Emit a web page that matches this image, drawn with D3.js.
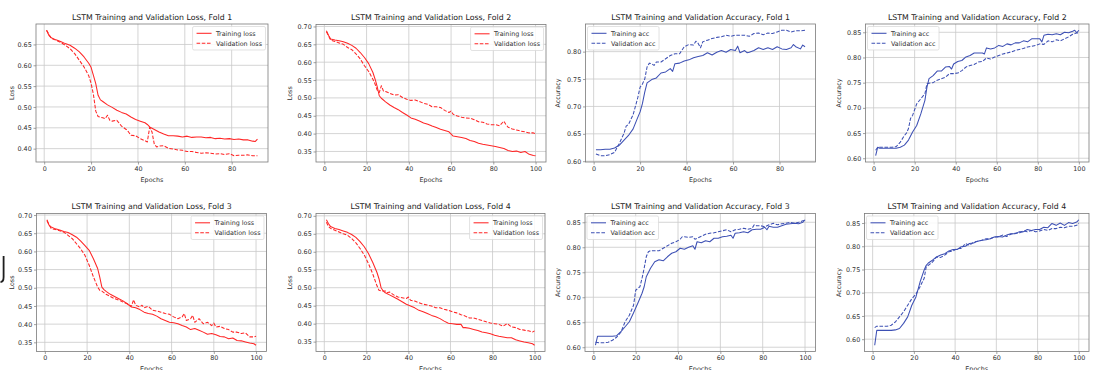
<!DOCTYPE html>
<html><head><meta charset="utf-8">
<script src="https://cdn.jsdelivr.net/npm/d3@7"></script>
<style>body{margin:0;background:#fff}svg{display:block;font-family:"DejaVu Sans",sans-serif}</style>
</head><body><svg id="chart" width="1099" height="370"></svg>
<script>
// ---------------- data: [epoch, value] ----------------
const lossF1Train = [[1,0.684],[2,0.672],[3,0.666],[5,0.661],[7,0.657],[9,0.652],[11,0.648],[13,0.641],[15,0.632],[17,0.620],[19,0.605],[20,0.595],[21,0.576],[22,0.556],[23,0.528],[24,0.517],[25,0.513],[27,0.505],[29,0.499],[31,0.492],[33,0.487],[35,0.483],[37,0.476],[39,0.470],[41,0.466],[43,0.462],[44,0.458],[45,0.452],[47,0.446],[49,0.440],[51,0.435],[53,0.431],[55,0.431],[57,0.430],[59,0.428],[61,0.430],[63,0.427],[65,0.428],[67,0.428],[69,0.426],[71,0.427],[73,0.424],[75,0.425],[77,0.423],[79,0.424],[81,0.422],[83,0.423],[85,0.421],[87,0.421],[89,0.418],[90,0.417],[91,0.423]];
const lossF1Val = [[1,0.684],[3,0.665],[5,0.660],[7,0.655],[9,0.648],[11,0.640],[13,0.628],[15,0.612],[17,0.596],[19,0.575],[20,0.557],[21,0.530],[22,0.490],[23,0.477],[25,0.474],[26,0.472],[27,0.480],[28,0.468],[29,0.466],[31,0.468],[33,0.454],[35,0.446],[36,0.440],[37,0.432],[39,0.431],[41,0.424],[43,0.419],[44,0.416],[45,0.451],[46,0.440],[47,0.410],[48,0.404],[49,0.406],[51,0.407],[53,0.401],[55,0.399],[57,0.397],[59,0.396],[61,0.393],[63,0.393],[65,0.391],[67,0.389],[69,0.390],[71,0.389],[73,0.387],[75,0.388],[77,0.386],[79,0.388],[81,0.383],[83,0.384],[85,0.384],[87,0.385],[89,0.383],[91,0.383]];
const lossF2Train = [[1,0.688],[2,0.675],[3,0.665],[5,0.662],[7,0.660],[9,0.657],[11,0.653],[13,0.647],[15,0.639],[17,0.627],[19,0.613],[21,0.596],[23,0.571],[24,0.553],[25,0.532],[26,0.506],[27,0.499],[29,0.489],[31,0.480],[33,0.473],[35,0.467],[37,0.459],[39,0.452],[41,0.444],[43,0.440],[45,0.435],[47,0.430],[49,0.426],[51,0.421],[53,0.417],[55,0.412],[57,0.409],[59,0.405],[61,0.393],[63,0.391],[65,0.389],[67,0.386],[69,0.381],[71,0.378],[73,0.373],[75,0.370],[77,0.368],[79,0.366],[81,0.364],[83,0.361],[85,0.358],[87,0.353],[89,0.350],[91,0.351],[93,0.347],[95,0.350],[97,0.342],[99,0.339],[100,0.338]];
const lossF2Val = [[1,0.685],[3,0.662],[5,0.658],[7,0.654],[9,0.650],[11,0.641],[13,0.635],[15,0.623],[17,0.609],[19,0.590],[21,0.574],[23,0.552],[24,0.539],[25,0.522],[26,0.515],[27,0.534],[28,0.519],[29,0.518],[31,0.513],[33,0.508],[35,0.509],[37,0.501],[39,0.496],[41,0.493],[43,0.494],[45,0.490],[47,0.485],[49,0.482],[51,0.475],[53,0.475],[55,0.473],[57,0.465],[59,0.459],[60,0.463],[61,0.454],[63,0.449],[65,0.446],[67,0.444],[69,0.443],[71,0.439],[73,0.433],[75,0.432],[77,0.427],[79,0.425],[81,0.425],[83,0.422],[85,0.435],[86,0.425],[87,0.418],[89,0.413],[91,0.410],[93,0.407],[95,0.405],[97,0.402],[99,0.402],[100,0.400]];
const lossF3Train = [[1,0.687],[2,0.672],[3,0.667],[5,0.662],[7,0.659],[9,0.655],[11,0.652],[13,0.646],[15,0.639],[17,0.628],[19,0.616],[21,0.603],[23,0.580],[25,0.553],[26,0.529],[27,0.502],[28,0.495],[29,0.490],[31,0.482],[33,0.476],[35,0.470],[37,0.464],[39,0.456],[41,0.447],[43,0.445],[45,0.440],[47,0.433],[49,0.429],[51,0.427],[53,0.422],[55,0.415],[57,0.410],[59,0.405],[61,0.404],[63,0.401],[65,0.396],[67,0.392],[69,0.385],[71,0.388],[73,0.383],[75,0.378],[77,0.372],[79,0.374],[81,0.371],[83,0.366],[85,0.365],[87,0.360],[89,0.362],[91,0.355],[93,0.354],[95,0.351],[97,0.348],[99,0.346],[100,0.342]];
const lossF3Val = [[1,0.684],[3,0.663],[5,0.660],[7,0.657],[9,0.653],[11,0.644],[13,0.635],[15,0.621],[17,0.607],[19,0.589],[21,0.562],[23,0.530],[25,0.502],[26,0.493],[27,0.491],[29,0.482],[31,0.476],[33,0.470],[35,0.466],[37,0.461],[39,0.456],[41,0.449],[42,0.467],[43,0.452],[45,0.447],[46,0.452],[47,0.445],[49,0.449],[51,0.438],[53,0.436],[55,0.433],[57,0.429],[59,0.427],[61,0.420],[63,0.415],[65,0.420],[66,0.429],[67,0.410],[69,0.415],[70,0.424],[71,0.405],[73,0.415],[75,0.401],[77,0.405],[79,0.396],[80,0.403],[81,0.392],[83,0.394],[85,0.388],[87,0.385],[89,0.378],[91,0.378],[93,0.374],[95,0.376],[97,0.365],[99,0.365],[100,0.367]];
const lossF4Train = [[1,0.689],[2,0.678],[3,0.670],[5,0.665],[7,0.662],[9,0.658],[11,0.654],[13,0.648],[15,0.640],[17,0.628],[19,0.614],[21,0.595],[23,0.571],[25,0.543],[26,0.525],[27,0.500],[28,0.491],[29,0.486],[31,0.480],[33,0.474],[35,0.468],[37,0.461],[39,0.454],[41,0.449],[43,0.444],[45,0.437],[47,0.433],[49,0.428],[51,0.423],[53,0.419],[55,0.414],[57,0.407],[59,0.401],[61,0.400],[63,0.398],[65,0.398],[66,0.389],[67,0.389],[69,0.387],[71,0.384],[73,0.381],[75,0.377],[77,0.375],[79,0.372],[81,0.368],[83,0.365],[85,0.363],[87,0.361],[89,0.361],[91,0.355],[93,0.352],[95,0.349],[97,0.347],[99,0.344],[100,0.340]];
const lossF4Val = [[1,0.682],[2,0.670],[3,0.665],[5,0.660],[7,0.655],[9,0.650],[11,0.646],[13,0.637],[15,0.625],[17,0.609],[19,0.591],[21,0.567],[23,0.539],[25,0.506],[26,0.493],[27,0.491],[29,0.491],[30,0.486],[31,0.488],[33,0.480],[35,0.474],[37,0.472],[39,0.470],[40,0.474],[41,0.465],[43,0.463],[45,0.458],[47,0.454],[49,0.452],[51,0.449],[53,0.444],[55,0.444],[57,0.440],[59,0.437],[61,0.433],[63,0.430],[65,0.425],[67,0.421],[69,0.416],[71,0.416],[73,0.412],[75,0.409],[77,0.405],[79,0.402],[81,0.400],[83,0.398],[85,0.393],[87,0.400],[89,0.391],[91,0.389],[93,0.384],[95,0.382],[97,0.380],[99,0.377],[100,0.380]];
const accF1Train = [[1,0.621],[3,0.621],[5,0.622],[7,0.622],[9,0.624],[11,0.629],[13,0.638],[15,0.647],[17,0.659],[19,0.680],[20,0.690],[21,0.705],[22,0.726],[23,0.743],[25,0.749],[27,0.752],[29,0.761],[31,0.763],[33,0.769],[34,0.764],[35,0.778],[37,0.779],[39,0.783],[41,0.785],[43,0.789],[45,0.791],[47,0.793],[49,0.798],[51,0.794],[53,0.799],[55,0.802],[57,0.799],[59,0.804],[61,0.802],[62,0.810],[63,0.798],[65,0.802],[66,0.798],[67,0.799],[69,0.802],[71,0.807],[73,0.804],[75,0.807],[77,0.804],[79,0.809],[81,0.805],[83,0.804],[85,0.807],[86,0.813],[87,0.809],[89,0.805],[90,0.812],[91,0.809]];
const accF1Val = [[1,0.613],[3,0.610],[5,0.610],[7,0.612],[9,0.616],[11,0.632],[13,0.650],[14,0.664],[15,0.667],[17,0.685],[19,0.716],[20,0.735],[21,0.741],[22,0.750],[23,0.772],[24,0.779],[25,0.778],[26,0.775],[27,0.781],[29,0.781],[31,0.787],[33,0.793],[35,0.796],[37,0.796],[39,0.809],[41,0.813],[43,0.812],[44,0.819],[45,0.815],[46,0.807],[47,0.818],[49,0.821],[51,0.824],[53,0.826],[55,0.827],[57,0.830],[59,0.828],[61,0.830],[63,0.830],[65,0.830],[67,0.828],[69,0.833],[71,0.834],[73,0.831],[75,0.834],[77,0.833],[79,0.836],[81,0.839],[83,0.839],[85,0.836],[87,0.838],[89,0.838],[91,0.839]];
const accF2Train = [[1,0.605],[2,0.622],[3,0.620],[5,0.620],[7,0.620],[9,0.620],[11,0.620],[13,0.622],[15,0.626],[17,0.636],[19,0.652],[21,0.665],[23,0.688],[25,0.715],[26,0.741],[27,0.758],[29,0.764],[31,0.773],[33,0.773],[35,0.781],[37,0.782],[38,0.777],[39,0.787],[41,0.792],[43,0.794],[45,0.801],[47,0.804],[49,0.809],[51,0.809],[53,0.809],[54,0.807],[55,0.819],[57,0.817],[59,0.819],[61,0.824],[63,0.822],[65,0.827],[67,0.825],[69,0.829],[71,0.829],[73,0.833],[75,0.831],[77,0.837],[79,0.837],[81,0.837],[82,0.831],[83,0.844],[85,0.846],[87,0.845],[89,0.847],[91,0.845],[93,0.850],[95,0.849],[97,0.852],[98,0.854],[99,0.849],[100,0.854]];
const accF2Val = [[1,0.616],[2,0.622],[3,0.622],[5,0.622],[7,0.622],[9,0.622],[11,0.623],[13,0.632],[15,0.645],[16,0.650],[17,0.659],[18,0.679],[19,0.685],[21,0.708],[23,0.718],[25,0.728],[26,0.748],[27,0.749],[29,0.750],[31,0.755],[33,0.758],[35,0.761],[37,0.768],[39,0.768],[41,0.769],[43,0.774],[45,0.781],[47,0.784],[49,0.786],[51,0.791],[53,0.792],[55,0.799],[57,0.797],[59,0.801],[61,0.804],[63,0.807],[65,0.809],[67,0.811],[69,0.814],[71,0.816],[73,0.818],[75,0.821],[77,0.822],[79,0.824],[81,0.827],[83,0.826],[85,0.833],[87,0.831],[89,0.835],[91,0.833],[93,0.837],[95,0.841],[97,0.846],[99,0.849],[100,0.847]];
const accF3Train = [[1,0.604],[2,0.622],[3,0.622],[5,0.622],[7,0.622],[9,0.622],[11,0.623],[13,0.631],[15,0.641],[17,0.651],[19,0.669],[21,0.688],[23,0.708],[24,0.721],[25,0.741],[27,0.758],[29,0.771],[31,0.775],[33,0.773],[35,0.781],[37,0.788],[39,0.791],[41,0.798],[43,0.796],[45,0.800],[47,0.803],[48,0.796],[49,0.811],[51,0.809],[53,0.813],[55,0.811],[57,0.818],[59,0.818],[61,0.821],[63,0.822],[65,0.824],[66,0.818],[67,0.828],[69,0.829],[71,0.831],[73,0.829],[75,0.835],[77,0.836],[79,0.836],[81,0.840],[82,0.835],[83,0.842],[85,0.840],[87,0.840],[89,0.843],[91,0.846],[93,0.847],[95,0.848],[97,0.847],[99,0.850],[100,0.855]];
const accF3Val = [[1,0.610],[3,0.609],[5,0.609],[7,0.610],[9,0.614],[11,0.620],[13,0.630],[15,0.651],[17,0.664],[19,0.684],[20,0.714],[21,0.718],[22,0.721],[23,0.738],[24,0.758],[25,0.781],[26,0.791],[27,0.793],[29,0.793],[31,0.793],[33,0.798],[35,0.803],[37,0.808],[39,0.811],[41,0.816],[42,0.821],[43,0.821],[45,0.820],[47,0.821],[48,0.816],[49,0.818],[51,0.822],[53,0.826],[55,0.828],[57,0.829],[59,0.831],[61,0.833],[63,0.835],[65,0.831],[67,0.835],[69,0.836],[71,0.838],[73,0.836],[75,0.838],[76,0.845],[77,0.843],[79,0.843],[81,0.841],[83,0.845],[85,0.848],[87,0.845],[89,0.847],[91,0.848],[93,0.850],[95,0.848],[97,0.850],[99,0.853],[100,0.854]];
const accF4Train = [[1,0.587],[2,0.619],[3,0.619],[5,0.619],[7,0.619],[9,0.619],[11,0.620],[13,0.623],[15,0.634],[17,0.648],[19,0.673],[21,0.691],[23,0.723],[25,0.749],[26,0.759],[27,0.764],[29,0.770],[31,0.777],[33,0.781],[35,0.784],[37,0.790],[39,0.793],[41,0.793],[43,0.799],[45,0.800],[47,0.806],[49,0.807],[51,0.811],[53,0.813],[55,0.814],[57,0.816],[59,0.820],[61,0.821],[63,0.820],[65,0.824],[67,0.827],[69,0.827],[71,0.831],[73,0.831],[75,0.836],[77,0.834],[79,0.836],[81,0.836],[83,0.841],[85,0.840],[87,0.849],[89,0.845],[91,0.850],[93,0.845],[95,0.851],[97,0.849],[99,0.852],[100,0.857]];
const accF4Val = [[1,0.625],[2,0.628],[3,0.628],[5,0.628],[7,0.628],[9,0.630],[11,0.637],[13,0.648],[15,0.659],[17,0.673],[19,0.687],[21,0.697],[23,0.713],[25,0.731],[26,0.756],[27,0.759],[29,0.766],[31,0.777],[33,0.776],[35,0.781],[37,0.788],[39,0.790],[41,0.795],[43,0.795],[45,0.806],[47,0.802],[49,0.809],[51,0.811],[53,0.813],[55,0.816],[57,0.816],[59,0.820],[61,0.820],[63,0.824],[65,0.821],[67,0.826],[69,0.828],[71,0.828],[73,0.833],[75,0.831],[77,0.834],[79,0.831],[81,0.833],[83,0.836],[85,0.834],[87,0.838],[89,0.838],[91,0.841],[93,0.840],[95,0.843],[97,0.843],[99,0.845],[100,0.850]];

const titles = ["LSTM Training and Validation Loss, Fold 1","LSTM Training and Validation Loss, Fold 2","LSTM Training and Validation Accuracy, Fold 1","LSTM Training and Validation Accuracy, Fold 2","LSTM Training and Validation Loss, Fold 3","LSTM Training and Validation Loss, Fold 4","LSTM Training and Validation Accuracy, Fold 3","LSTM Training and Validation Accuracy, Fold 4"];
const lossNames = ["Training loss","Validation loss"];
const accNames = ["Training acc","Validation acc"];
const xTicksF1 = [0,20,40,60,80];
const xTicks100 = [0,20,40,60,80,100];
const yTicksLoss1 = [0.40,0.45,0.50,0.55,0.60,0.65];
const yTicksLoss = [0.35,0.40,0.45,0.50,0.55,0.60,0.65,0.70];
const yTicksAcc1 = [0.60,0.65,0.70,0.75,0.80];
const yTicksAcc = [0.60,0.65,0.70,0.75,0.80,0.85];

// ---------------- layout ----------------
const RED = "#ff2626", BLUE = "#3d50b4";
const panels = [
  {t:0, kind:"loss", tr:lossF1Train, va:lossF1Val, xt:xTicksF1, yt:yTicksLoss1, box:[36,24,268,162], ylx:12},
  {t:1, kind:"loss", tr:lossF2Train, va:lossF2Val, xt:xTicks100, yt:yTicksLoss, box:[316,24.5,546,162], ylx:290},
  {t:2, kind:"acc", tr:accF1Train, va:accF1Val, xt:xTicksF1, yt:yTicksAcc1, box:[585.5,24,815.5,162], ylx:558},
  {t:3, kind:"acc", tr:accF2Train, va:accF2Val, xt:xTicks100, yt:yTicksAcc, box:[865.5,24,1089,162], ylx:838.5},
  {t:4, kind:"loss", tr:lossF3Train, va:lossF3Val, xt:xTicks100, yt:yTicksLoss, box:[36.5,213.5,266.5,351.5], ylx:12},
  {t:5, kind:"loss", tr:lossF4Train, va:lossF4Val, xt:xTicks100, yt:yTicksLoss, box:[316,213.5,545,351.5], ylx:290},
  {t:6, kind:"acc", tr:accF3Train, va:accF3Val, xt:xTicks100, yt:yTicksAcc, box:[585,213.5,815.5,351.5], ylx:558},
  {t:7, kind:"acc", tr:accF4Train, va:accF4Val, xt:xTicks100, yt:yTicksAcc, box:[864.5,213.5,1089,351.5], ylx:838.5}
];

const svg = d3.select("#chart");
const FS = 6.4, TFS = 7.8;
const gridC = "#c9c9c9", spineC = "#7a7a7a", textC = "#303030";

panels.forEach((p, i) => {
  const [x0,y0,x1,y1] = p.box;
  const all = p.tr.concat(p.va);
  const xe = d3.extent(all, d => d[0]), ye = d3.extent(all, d => d[1]);
  const xm = (xe[1]-xe[0])*0.05, ym = (ye[1]-ye[0])*0.05;
  const x = d3.scaleLinear().domain([xe[0]-xm, xe[1]+xm]).range([x0,x1]);
  const y = d3.scaleLinear().domain([ye[0]-ym, ye[1]+ym]).range([y1,y0]);
  const color = p.kind === "loss" ? RED : BLUE;
  const names = p.kind === "loss" ? lossNames : accNames;
  const g = svg.append("g");

  // grid
  g.append("g").selectAll("line").data(p.xt).join("line")
    .attr("x1", d=>x(d)).attr("x2", d=>x(d)).attr("y1", y0).attr("y2", y1)
    .attr("stroke", gridC).attr("stroke-width", 0.8);
  g.append("g").selectAll("line").data(p.yt).join("line")
    .attr("y1", d=>y(d)).attr("y2", d=>y(d)).attr("x1", x0).attr("x2", x1)
    .attr("stroke", gridC).attr("stroke-width", 0.8);

  // axes
  const xAxis = d3.axisBottom(x).tickValues(p.xt).tickFormat(d3.format("d")).tickSize(2.5).tickPadding(1.5);
  const yAxis = d3.axisLeft(y).tickValues(p.yt).tickFormat(d3.format(".2f")).tickSize(2.5).tickPadding(1.8);
  const gx = g.append("g").attr("transform", `translate(0,${y1})`).call(xAxis);
  const gy = g.append("g").attr("transform", `translate(${x0},0)`).call(yAxis);
  [gx, gy].forEach(a => {
    a.select(".domain").remove();
    a.selectAll(".tick line").attr("stroke", spineC).attr("stroke-width", 0.7);
    a.selectAll(".tick text").attr("fill", textC).style("font-size", FS+"px").style("font-family","DejaVu Sans");
  });

  // lines
  const clipId = "clip"+i;
  svg.append("clipPath").attr("id", clipId).append("rect").attr("x", x0).attr("y", y0).attr("width", x1-x0).attr("height", y1-y0);
  const line = d3.line().x(d=>x(d[0])).y(d=>y(d[1]));
  const lg = g.append("g").attr("clip-path", `url(#${clipId})`);
  lg.append("path").datum(p.tr).attr("d", line).attr("fill","none").attr("stroke", color).attr("stroke-width", 1.05).attr("stroke-linejoin","round");
  lg.append("path").datum(p.va).attr("d", line).attr("fill","none").attr("stroke", color).attr("stroke-width", 1.05).attr("stroke-dasharray","3.6,1.6").attr("stroke-linejoin","round");

  // spines
  g.append("rect").attr("x", x0).attr("y", y0).attr("width", x1-x0).attr("height", y1-y0)
    .attr("fill","none").attr("stroke", spineC).attr("stroke-width", 0.8);

  // title & labels
  g.append("text").attr("x", (x0+x1)/2).attr("y", y0-4.5).attr("text-anchor","middle")
    .attr("fill","#222").style("font-size", TFS+"px").text(titles[p.t]);
  g.append("text").attr("x", (x0+x1)/2).attr("y", y1+19.5).attr("text-anchor","middle")
    .attr("fill", textC).style("font-size", FS+"px").text("Epochs");
  g.append("text").attr("transform", `translate(${p.ylx},${(y0+y1)/2}) rotate(-90)`).attr("text-anchor","middle")
    .attr("dy","0.35em").attr("fill", textC).style("font-size", FS+"px").text(p.kind === "loss" ? "Loss" : "Accuracy");

  // legend
  const leg = g.append("g");
  const bg = leg.append("rect");
  let tw = 0;
  names.forEach((n, k) => {
    const ty = 6.8 + k*10;
    leg.append("line").attr("x1", 4).attr("x2", 19).attr("y1", ty).attr("y2", ty)
      .attr("stroke", color).attr("stroke-width", 1.05).attr("stroke-dasharray", k ? "3.6,1.6" : null);
    const t = leg.append("text").attr("x", 23.5).attr("y", ty).attr("dy","0.35em")
      .attr("fill", textC).style("font-size", FS+"px").text(n);
    tw = Math.max(tw, t.node().getComputedTextLength());
  });
  const lw = 23.5 + tw + 3.5, lh = 23.5;
  bg.attr("width", lw).attr("height", lh).attr("rx", 1.5).attr("fill","#fff").attr("fill-opacity",0.85)
    .attr("stroke","#d6d6d6").attr("stroke-width",0.7);
  const lx = p.kind === "loss" ? x1 - 2.5 - lw : x0 + 2;
  leg.attr("transform", `translate(${lx},${y0+2.5})`);
});

// stray mark at the left edge
svg.append("path").attr("d","M3.6,256 L3.6,277 Q3.6,282 0.5,282").attr("fill","none").attr("stroke","#1e1e1e").attr("stroke-width",1.8);
</script></body></html>
